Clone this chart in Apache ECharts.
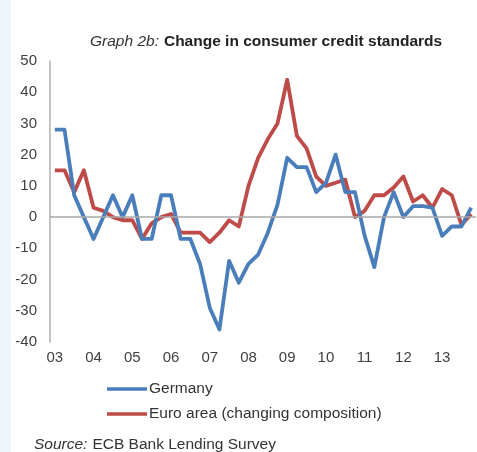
<!DOCTYPE html>
<html>
<head>
<meta charset="utf-8">
<script src="https://cdn.jsdelivr.net/npm/echarts@6/dist/echarts.min.js"></script>
<style>
html,body{margin:0;padding:0;background:#fff;}
#c{width:477px;height:452px;}
</style>
</head>
<body>
<div id="c"></div>
<script>
// Quarterly categories 2003Q1 .. 2013Q4
const years = ['03','04','05','06','07','08','09','10','11','12','13'];
const categories = [];
years.forEach(y => { for (let q = 1; q <= 4; q++) categories.push(y + 'Q' + q); });

const germany = [28, 28, 7, 0, -7, 0, 7, 0, 7, -7, -7, 7, 7, -7, -7, -15, -29, -36, -14, -21,
  -15, -12, -5, 4, 19, 16, 16, 8, 11, 20, 8, 8, -6, -16, 0, 8, 0, 3.5, 3.5, 3, -6, -3, -3, 3];
const euroArea = [15, 15, 8, 15, 3, 2, 0, -1, -1, -7, -2, 0, 1, -5, -5, -5, -8, -5, -1, -3,
  10, 19, 25, 30, 44, 26, 22, 13, 10, 11, 12, 0, 2, 7, 7, 9.5, 13, 5, 7, 3, 9, 7, -2.5, 1];

const yTicks = { min: -40, max: 50, interval: 10 };
const seriesNames = ['Germany', 'Euro area (changing composition)'];
const titleText = 'Change in consumer credit standards';
const sourceText = 'ECB Bank Lending Survey';

const FONT = '"Liberation Sans", Arial, sans-serif';
const chart = echarts.init(document.getElementById('c'), null, { renderer: 'canvas' });
chart.setOption({
  backgroundColor: '#ffffff',
  animation: false,
  graphic: [{
    type: 'rect', left: 0, top: 0, shape: { width: 11, height: 452 },
    style: { fill: '#eef5fb' }, silent: true
  }],
  title: [{
    text: '{i|Graph 2b:} {b|' + titleText + '}',
    left: 85, top: 28,
    textStyle: {
      fontWeight: 'normal',
      rich: {
        i: { fontFamily: FONT, fontStyle: 'italic', fontWeight: 'normal', fontSize: 15.5, color: '#333' },
        b: { fontFamily: FONT, fontWeight: 'bold', fontSize: 15.5, color: '#222' }
      }
    }
  }, {
    text: '{i|Source:} {n|' + sourceText + '}',
    left: 29, top: 431,
    textStyle: {
      fontWeight: 'normal',
      rich: {
        i: { fontFamily: FONT, fontStyle: 'italic', fontWeight: 'normal', fontSize: 15.5, color: '#333' },
        n: { fontFamily: FONT, fontWeight: 'normal', fontSize: 15.5, color: '#333' }
      }
    }
  }],
  legend: {
    data: seriesNames,
    orient: 'vertical',
    left: 102, top: 376,
    icon: 'rect',
    itemWidth: 40, itemHeight: 3.5,
    itemGap: 9,
    textStyle: { fontFamily: FONT, fontSize: 15.5, color: '#333', padding: [0, 0, 0, -3] }
  },
  grid: { left: 50, right: 1, top: 61, bottom: 110, containLabel: false },
  xAxis: {
    type: 'category',
    data: categories,
    boundaryGap: true,
    axisLine: { show: false },
    axisTick: { show: false },
    axisLabel: {
      interval: 3,
      margin: 8,
      fontFamily: FONT, fontSize: 15, color: '#404040',
      formatter: v => v.slice(0, 2)
    },
    splitLine: { show: false }
  },
  yAxis: {
    type: 'value',
    min: yTicks.min, max: yTicks.max, interval: yTicks.interval,
    axisLine: { show: true, lineStyle: { color: '#b0b0b0', width: 1.5 } },
    axisTick: { show: false },
    axisLabel: { margin: 13, fontFamily: FONT, fontSize: 15, color: '#404040' },
    splitLine: { show: false }
  },
  series: [{
    type: 'line', name: '_zero', data: [], z: 1, silent: true,
    markLine: {
      silent: true, symbol: 'none', label: { show: false },
      lineStyle: { color: '#a8a8a8', width: 1.5, type: 'solid' },
      data: [{ yAxis: 0 }], animation: false
    }
  }, {
    type: 'line', name: seriesNames[0], data: germany, z: 3,
    symbol: 'none', smooth: false,
    itemStyle: { color: '#4a7ebb' },
    lineStyle: { color: '#4a7ebb', width: 3.8, join: 'round' }
  }, {
    type: 'line', name: seriesNames[1], data: euroArea, z: 2,
    symbol: 'none', smooth: false,
    itemStyle: { color: '#be4b48' },
    lineStyle: { color: '#be4b48', width: 3.8, join: 'round' }
  }]
});
</script>
</body>
</html>
